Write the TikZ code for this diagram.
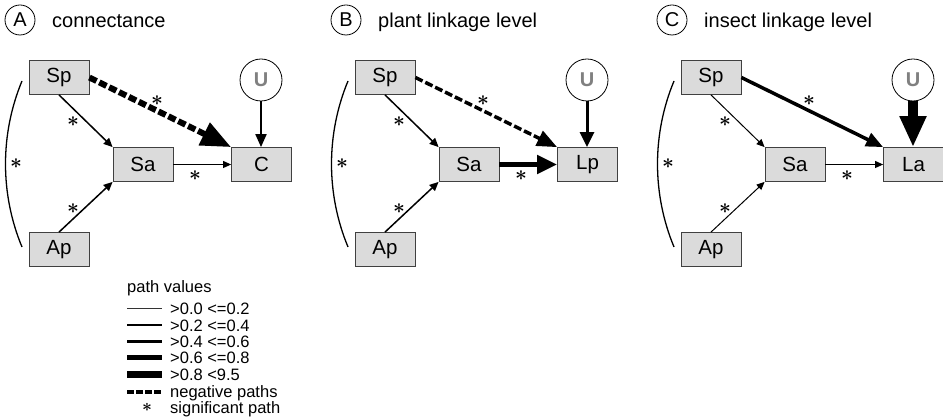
\documentclass[tikz,border=0pt]{standalone}
\usepackage{fontspec}
\setmainfont{Liberation Sans}
\usetikzlibrary{arrows.meta}
\newcommand\sigmark{$\ast$}
\tikzset{
  box/.style={draw=black!75, line width=0.8pt, fill=black!14, minimum width=60pt, minimum height=34pt, inner sep=0pt, font=\fontsize{20.5}{24}\selectfont},
  titlecirc/.style={draw=black, line width=0.8pt, circle, minimum size=30pt, inner sep=0pt, font=\fontsize{20}{24}\selectfont},
  titletext/.style={anchor=base west, inner sep=0pt, font=\fontsize{20}{24}\selectfont},
  ucirc/.style={draw=black, line width=0.8pt, circle, minimum size=42pt, inner sep=0pt, text=black!50, font=\fontsize{20}{24}\selectfont\bfseries},
  arcline/.style={line width=1.3pt},
  conn/.style n args={3}{line width=#1pt, -{Triangle[length=#2pt, width=#3pt]}},
  neg/.style={dash pattern=on 8pt off 3pt},
  sig/.style={anchor=base, inner sep=0pt, yshift=-5pt, font=\fontsize{20}{24}\selectfont\boldmath},
  legtext/.style={anchor=base west, inner sep=0pt, font=\fontsize{16.5}{19}\selectfont},
  legsig/.style={anchor=base, inner sep=0pt, yshift=-4.5pt, font=\fontsize{18}{22}\selectfont\boldmath}
}
\newcommand\pathpanel[8]{%
  \node[titlecirc] (#1-circ) at (20,20) {#1};
  \node[titletext] (#1-title) at (52,28) {#2};
  \node[box] (#1-Sp) at (59,77.5) {Sp};
  \node[box] (#1-Sa) at (143,164.5) {Sa};
  \node[box] (#1-T) at (261.5,164.5) {#3};
  \node[box] (#1-Ap) at (59,249.5) {Ap};
  \node[ucirc] (#1-U) at (261,80) {U};
  \coordinate (#1-a1) at (22,81);
  \coordinate (#1-a2) at (22,247);
  \draw[arcline] (#1-a1) .. controls (0,134) and (0,194) .. (#1-a2);
  \draw[#4] (#1-Sp.south) -- (#1-Sa.north west);
  \draw[#5] (#1-Ap.north) -- (#1-Sa.south west);
  \draw[#6] (#1-Sa.east) -- (#1-T.west);
  \draw[#7] (#1-Sp.east) -- (#1-T.north west);
  \draw[#8] (#1-U.south) -- (#1-U.south |- #1-T.north);
  \node[sig] (#1-s1) at (73,122) {\sigmark};
  \node[sig] (#1-s2) at (157,101) {\sigmark};
  \node[sig] (#1-s3) at (16,164) {\sigmark};
  \node[sig] (#1-s4) at (195,176) {\sigmark};
  \node[sig] (#1-s5) at (73,209) {\sigmark};
}
\begin{document}
\begin{tikzpicture}[x=1pt,y=-1pt]
\useasboundingbox (0,0) rectangle (943,419);
\pathpanel{A}{connectance}{C}{conn={1.5}{9}{8}}{conn={1.5}{9}{8}}{conn={1}{8}{7}}{conn={6}{30}{24},neg}{conn={2}{13}{11}}
\begin{scope}[xshift=326pt]
\pathpanel{B}{plant linkage level}{Lp}{conn={1.5}{9}{8}}{conn={1.5}{9}{8}}{conn={5}{20}{18}}{conn={3.5}{20}{16},neg}{conn={3}{15}{14}}
\end{scope}
\begin{scope}[xshift=652pt]
\pathpanel{C}{insect linkage level}{La}{conn={1}{8}{7}}{conn={1}{8}{7}}{conn={1}{8}{7}}{conn={3.5}{17}{14}}{conn={9.5}{31}{25}}
\end{scope}
% legend
\node[legtext] (legtitle) at (127,293) {path values};
\coordinate (l1a) at (127,309); \coordinate (l1b) at (162,309);
\coordinate (l2a) at (127,325.5); \coordinate (l2b) at (162,325.5);
\coordinate (l3a) at (127,341.5); \coordinate (l3b) at (162,341.5);
\coordinate (l4a) at (127,357.5); \coordinate (l4b) at (162,357.5);
\coordinate (l5a) at (127,374.5); \coordinate (l5b) at (162,374.5);
\coordinate (l6a) at (127,392); \coordinate (l6b) at (162,392);
\draw[line width=1pt, black!80] (l1a) -- (l1b);
\draw[line width=2pt] (l2a) -- (l2b);
\draw[line width=3.3pt] (l3a) -- (l3b);
\draw[line width=4.5pt] (l4a) -- (l4b);
\draw[line width=7pt] (l5a) -- (l5b);
\draw[line width=3.5pt, dash pattern=on 6.5pt off 2.5pt] (l6a) -- (l6b);
\node[legtext] (leg1) at (170,315) {>0.0 <=0.2};
\node[legtext] (leg2) at (170,331.5) {>0.2 <=0.4};
\node[legtext] (leg3) at (170,347.5) {>0.4 <=0.6};
\node[legtext] (leg4) at (170,363.5) {>0.6 <=0.8};
\node[legtext] (leg5) at (170,380.5) {>0.8 <9.5};
\node[legtext] (leg6) at (170,398) {negative paths};
\node[legsig] (leg7s) at (147,407) {\sigmark};
\node[legtext] (leg7) at (170,413.5) {significant path};
\end{tikzpicture}
\end{document}
